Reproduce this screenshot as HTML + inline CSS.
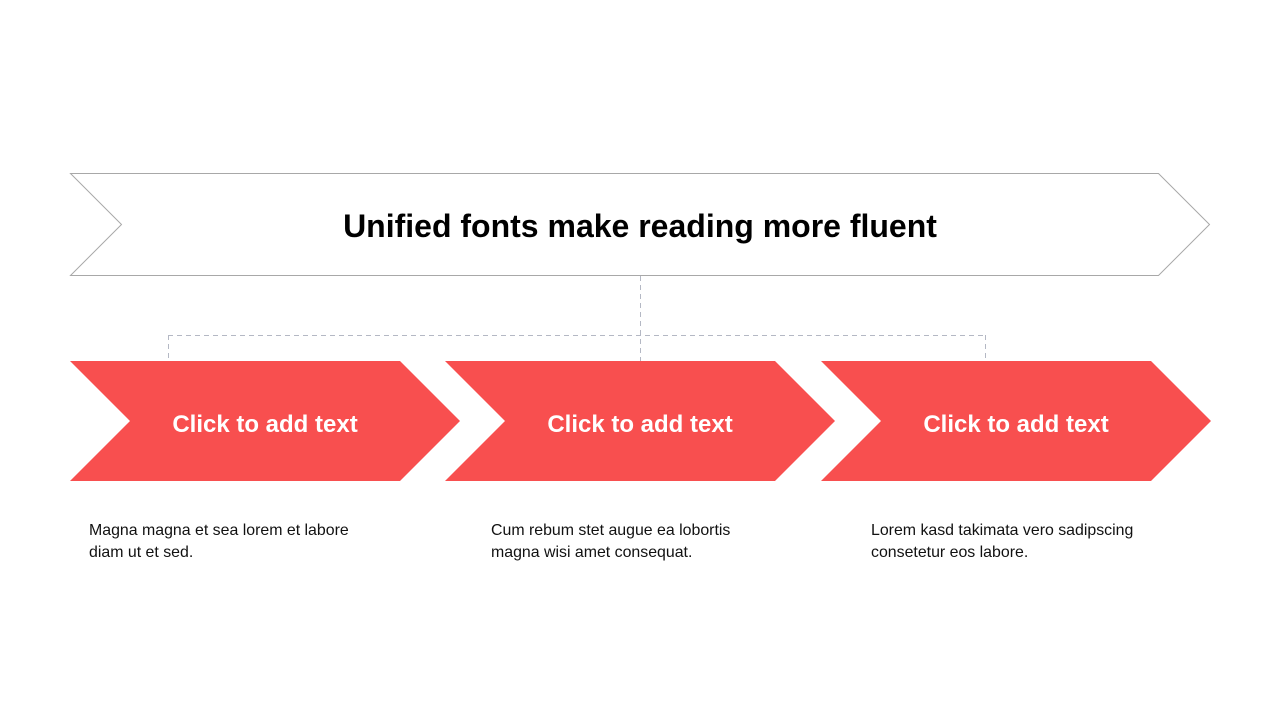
<!DOCTYPE html>
<html><head><style>
body{margin:0;width:1280px;height:720px;background:#fff;overflow:hidden;font-family:"Liberation Sans",Arial,sans-serif}
.t{position:absolute;font-size:15.9px;line-height:22px;color:#111}
</style></head><body>
<svg width="1280" height="720" style="position:absolute;left:0;top:0">
<polygon points="70.5,173.5 1158.5,173.5 1209.5,224.5 1158.5,275.5 70.5,275.5 121.5,224.5" fill="#fff" stroke="#a8a8a8" stroke-width="1"/>
<text x="640" y="237" text-anchor="middle" font-family="Liberation Sans, Arial, sans-serif" font-weight="bold" font-size="32" fill="#000">Unified fonts make reading more fluent</text>
<g stroke="#b4b8c4" stroke-width="1" stroke-dasharray="5,4" fill="none">
<line x1="640.5" y1="276" x2="640.5" y2="361"/>
<line x1="168" y1="335.5" x2="986" y2="335.5"/>
<line x1="168.5" y1="335" x2="168.5" y2="361"/>
<line x1="985.5" y1="335" x2="985.5" y2="361"/>
</g>
<g fill="#f84f4f">
<polygon points="70,361 400,361 460,421 400,481 70,481 130,421"/>
<polygon points="445,361 775,361 835,421 775,481 445,481 505,421"/>
<polygon points="821,361 1151,361 1211,421 1151,481 821,481 881,421"/>
</g>
<g font-family="Liberation Sans, Arial, sans-serif" font-weight="bold" font-size="24" fill="#fff" text-anchor="middle">
<text x="265" y="432">Click to add text</text>
<text x="640" y="432">Click to add text</text>
<text x="1016" y="432">Click to add text</text>
</g>
</svg>
<div class="t" style="left:89px;top:520px">Magna magna et sea lorem et labore<br>diam ut et sed.</div>
<div class="t" style="left:491px;top:520px">Cum rebum stet augue ea lobortis<br>magna wisi amet consequat.</div>
<div class="t" style="left:871px;top:520px">Lorem kasd takimata vero sadipscing<br>consetetur eos labore.</div>
</body></html>
